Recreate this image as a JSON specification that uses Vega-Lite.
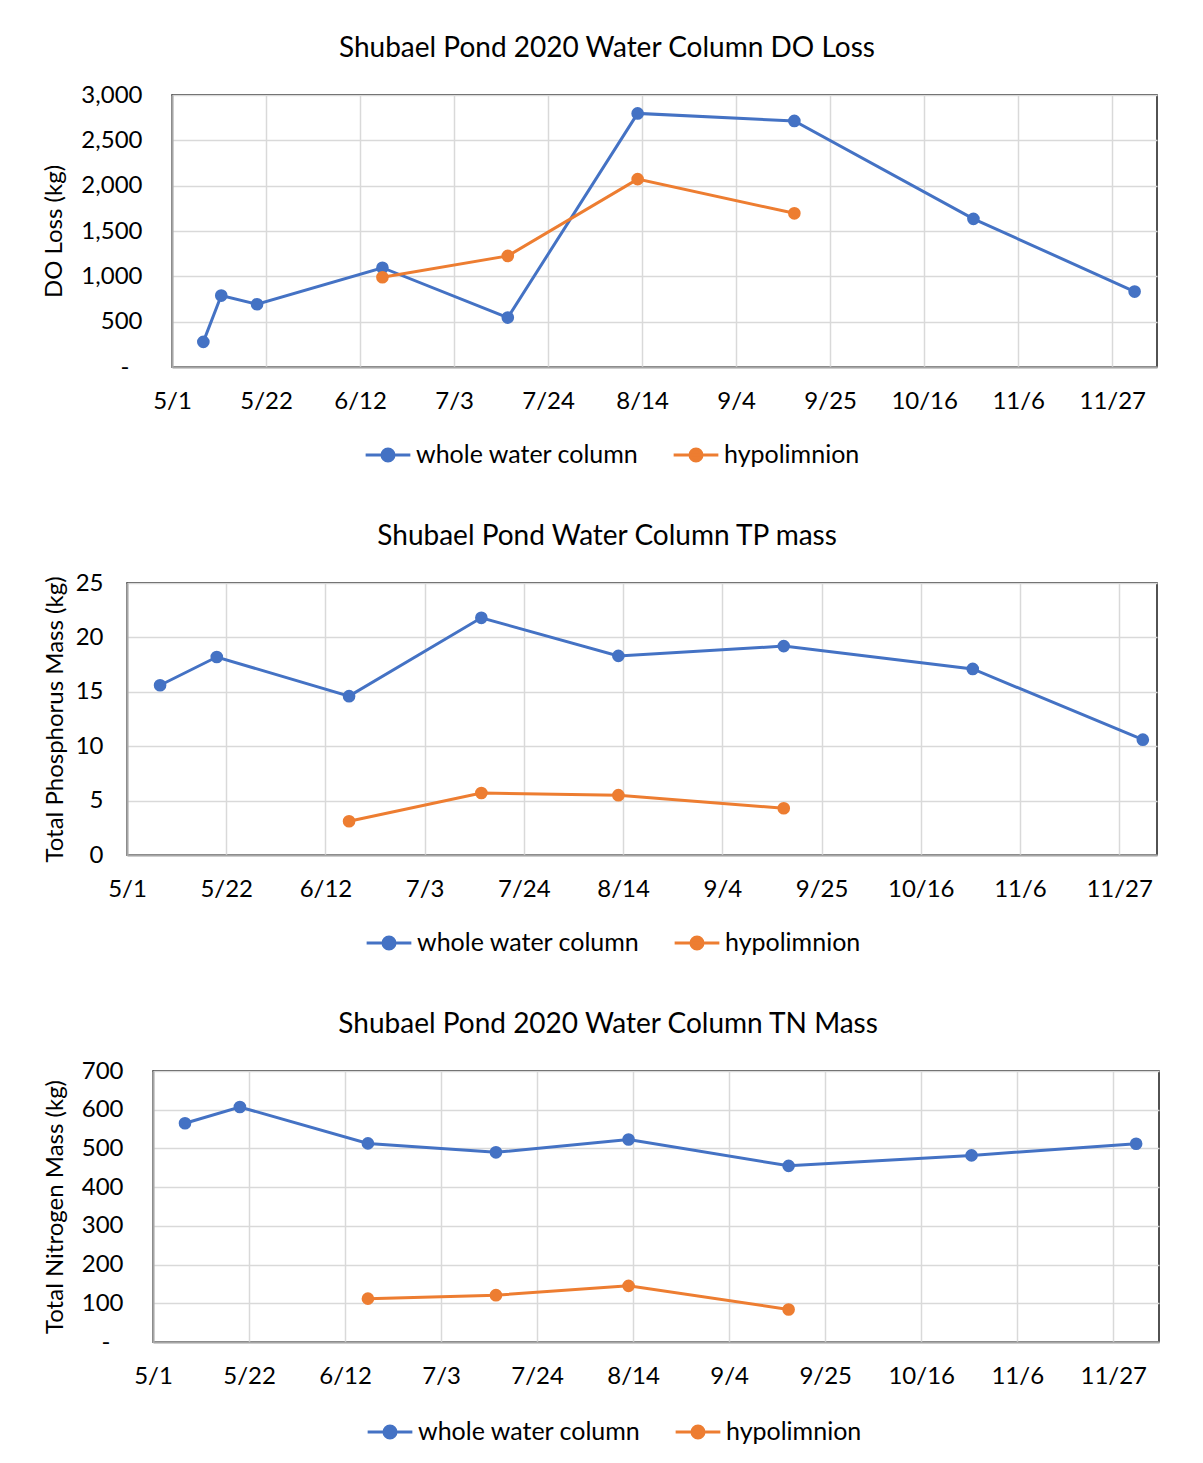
{
  "$schema": "https://vega.github.io/schema/vega-lite/v6.json",
  "padding": {"left": 41, "top": 34, "right": 20, "bottom": 5},
  "spacing": 53,
  "datasets": {
    "d": [
      {"panel": "DO", "series": "whole water column", "date": "2020-05-08T00:00:00", "value": 277},
      {"panel": "DO", "series": "whole water column", "date": "2020-05-12T00:00:00", "value": 788},
      {"panel": "DO", "series": "whole water column", "date": "2020-05-20T00:00:00", "value": 692},
      {"panel": "DO", "series": "whole water column", "date": "2020-06-17T00:00:00", "value": 1095},
      {"panel": "DO", "series": "whole water column", "date": "2020-07-15T00:00:00", "value": 545},
      {"panel": "DO", "series": "whole water column", "date": "2020-08-13T00:00:00", "value": 2797},
      {"panel": "DO", "series": "whole water column", "date": "2020-09-17T00:00:00", "value": 2714},
      {"panel": "DO", "series": "whole water column", "date": "2020-10-27T00:00:00", "value": 1634},
      {"panel": "DO", "series": "whole water column", "date": "2020-12-02T00:00:00", "value": 832},
      {"panel": "DO", "series": "hypolimnion", "date": "2020-06-17T00:00:00", "value": 990},
      {"panel": "DO", "series": "hypolimnion", "date": "2020-07-15T00:00:00", "value": 1225},
      {"panel": "DO", "series": "hypolimnion", "date": "2020-08-13T00:00:00", "value": 2072},
      {"panel": "DO", "series": "hypolimnion", "date": "2020-09-17T00:00:00", "value": 1695},
      {"panel": "TP", "series": "whole water column", "date": "2020-05-08T00:00:00", "value": 15.6},
      {"panel": "TP", "series": "whole water column", "date": "2020-05-20T00:00:00", "value": 18.2},
      {"panel": "TP", "series": "whole water column", "date": "2020-06-17T00:00:00", "value": 14.6},
      {"panel": "TP", "series": "whole water column", "date": "2020-07-15T00:00:00", "value": 21.8},
      {"panel": "TP", "series": "whole water column", "date": "2020-08-13T00:00:00", "value": 18.3},
      {"panel": "TP", "series": "whole water column", "date": "2020-09-17T00:00:00", "value": 19.2},
      {"panel": "TP", "series": "whole water column", "date": "2020-10-27T00:00:00", "value": 17.1},
      {"panel": "TP", "series": "whole water column", "date": "2020-12-02T00:00:00", "value": 10.6},
      {"panel": "TP", "series": "hypolimnion", "date": "2020-06-17T00:00:00", "value": 3.1},
      {"panel": "TP", "series": "hypolimnion", "date": "2020-07-15T00:00:00", "value": 5.7},
      {"panel": "TP", "series": "hypolimnion", "date": "2020-08-13T00:00:00", "value": 5.5},
      {"panel": "TP", "series": "hypolimnion", "date": "2020-09-17T00:00:00", "value": 4.3},
      {"panel": "TN", "series": "whole water column", "date": "2020-05-08T00:00:00", "value": 565},
      {"panel": "TN", "series": "whole water column", "date": "2020-05-20T00:00:00", "value": 607},
      {"panel": "TN", "series": "whole water column", "date": "2020-06-17T00:00:00", "value": 513},
      {"panel": "TN", "series": "whole water column", "date": "2020-07-15T00:00:00", "value": 490},
      {"panel": "TN", "series": "whole water column", "date": "2020-08-13T00:00:00", "value": 523},
      {"panel": "TN", "series": "whole water column", "date": "2020-09-17T00:00:00", "value": 455},
      {"panel": "TN", "series": "whole water column", "date": "2020-10-27T00:00:00", "value": 482},
      {"panel": "TN", "series": "whole water column", "date": "2020-12-02T00:00:00", "value": 512},
      {"panel": "TN", "series": "hypolimnion", "date": "2020-06-17T00:00:00", "value": 112},
      {"panel": "TN", "series": "hypolimnion", "date": "2020-07-15T00:00:00", "value": 121},
      {"panel": "TN", "series": "hypolimnion", "date": "2020-08-13T00:00:00", "value": 145},
      {"panel": "TN", "series": "hypolimnion", "date": "2020-09-17T00:00:00", "value": 84}
    ]
  },
  "vconcat": [
    {
      "spacing": 0,
      "hconcat": [
        {"width": 1, "height": 1, "data": {"values": []}, "mark": "point", "view": {"stroke": null}},
        {
          "title": {"text": "Shubael Pond 2020 Water Column DO Loss"},
          "width": 985,
          "height": 272,
          "data": {"name": "d"},
          "transform": [{"filter": "datum.panel == 'DO'"}],
          "mark": {"type": "line", "strokeWidth": 3, "point": {"filled": true, "size": 160}},
          "encoding": {
            "x": {
              "field": "date", "type": "temporal",
              "scale": {"domain": [{"year": 2020, "month": 5, "date": 1}, {"year": 2020, "month": 12, "date": 7}]},
              "axis": {"title": null, "format": "%-m/%-d",
                "values": [{"year": 2020, "month": 5, "date": 1}, {"year": 2020, "month": 5, "date": 22}, {"year": 2020, "month": 6, "date": 12}, {"year": 2020, "month": 7, "date": 3}, {"year": 2020, "month": 7, "date": 24}, {"year": 2020, "month": 8, "date": 14}, {"year": 2020, "month": 9, "date": 4}, {"year": 2020, "month": 9, "date": 25}, {"year": 2020, "month": 10, "date": 16}, {"year": 2020, "month": 11, "date": 6}, {"year": 2020, "month": 11, "date": 27}]}
            },
            "y": {
              "field": "value", "type": "quantitative",
              "scale": {"domain": [0, 3000], "nice": false},
              "axis": {"title": "DO Loss (kg)", "values": [0, 500, 1000, 1500, 2000, 2500, 3000], "titlePadding": 14,
                "labelPadding": {"condition": {"test": "datum.value === 0", "value": 43}, "value": 30},
                "labelExpr": "datum.value === 0 ? '-' : format(datum.value, ',')"}
            },
            "color": {
              "field": "series", "type": "nominal",
              "scale": {"domain": ["whole water column", "hypolimnion"], "range": ["#4472C4", "#ED7D31"]},
              "legend": {"title": null, "orient": "none", "legendX": 192, "legendY": 336}
            }
          }
        }
      ],
      "resolve": {"scale": {"color": "independent"}, "legend": {"color": "independent"}}
    },
    {
      "spacing": 0,
      "hconcat": [
        {"width": 1, "height": 1, "data": {"values": []}, "mark": "point", "view": {"stroke": null}},
        {
          "title": {"text": "Shubael Pond Water Column TP mass"},
          "width": 1030,
          "height": 272,
          "data": {"name": "d"},
          "transform": [{"filter": "datum.panel == 'TP'"}],
          "mark": {"type": "line", "strokeWidth": 3, "point": {"filled": true, "size": 160}},
          "encoding": {
            "x": {
              "field": "date", "type": "temporal",
              "scale": {"domain": [{"year": 2020, "month": 5, "date": 1}, {"year": 2020, "month": 12, "date": 5}]},
              "axis": {"title": null, "format": "%-m/%-d",
                "values": [{"year": 2020, "month": 5, "date": 1}, {"year": 2020, "month": 5, "date": 22}, {"year": 2020, "month": 6, "date": 12}, {"year": 2020, "month": 7, "date": 3}, {"year": 2020, "month": 7, "date": 24}, {"year": 2020, "month": 8, "date": 14}, {"year": 2020, "month": 9, "date": 4}, {"year": 2020, "month": 9, "date": 25}, {"year": 2020, "month": 10, "date": 16}, {"year": 2020, "month": 11, "date": 6}, {"year": 2020, "month": 11, "date": 27}]}
            },
            "y": {
              "field": "value", "type": "quantitative",
              "scale": {"domain": [0, 25], "nice": false},
              "axis": {"title": "Total Phosphorus Mass (kg)", "values": [0, 5, 10, 15, 20, 25], "labelPadding": 24, "titlePadding": 8}
            },
            "color": {
              "field": "series", "type": "nominal",
              "scale": {"domain": ["whole water column", "hypolimnion"], "range": ["#4472C4", "#ED7D31"]},
              "legend": {"title": null, "orient": "none", "legendX": 238, "legendY": 336}
            }
          }
        }
      ],
      "resolve": {"scale": {"color": "independent"}, "legend": {"color": "independent"}}
    },
    {
      "spacing": 0,
      "hconcat": [
        {"width": 1, "height": 1, "data": {"values": []}, "mark": "point", "view": {"stroke": null}},
        {
          "title": {"text": "Shubael Pond 2020 Water Column TN Mass"},
          "width": 1006,
          "height": 271,
          "data": {"name": "d"},
          "transform": [{"filter": "datum.panel == 'TN'"}],
          "mark": {"type": "line", "strokeWidth": 3, "point": {"filled": true, "size": 160}},
          "encoding": {
            "x": {
              "field": "date", "type": "temporal",
              "scale": {"domain": [{"year": 2020, "month": 5, "date": 1}, {"year": 2020, "month": 12, "date": 7}]},
              "axis": {"title": null, "format": "%-m/%-d",
                "values": [{"year": 2020, "month": 5, "date": 1}, {"year": 2020, "month": 5, "date": 22}, {"year": 2020, "month": 6, "date": 12}, {"year": 2020, "month": 7, "date": 3}, {"year": 2020, "month": 7, "date": 24}, {"year": 2020, "month": 8, "date": 14}, {"year": 2020, "month": 9, "date": 4}, {"year": 2020, "month": 9, "date": 25}, {"year": 2020, "month": 10, "date": 16}, {"year": 2020, "month": 11, "date": 6}, {"year": 2020, "month": 11, "date": 27}]}
            },
            "y": {
              "field": "value", "type": "quantitative",
              "scale": {"domain": [0, 700], "nice": false},
              "axis": {"title": "Total Nitrogen Mass (kg)", "values": [0, 100, 200, 300, 400, 500, 600, 700], "titlePadding": 14,
                "labelPadding": {"condition": {"test": "datum.value === 0", "value": 43}, "value": 30},
                "labelExpr": "datum.value === 0 ? '-' : datum.label"}
            },
            "color": {
              "field": "series", "type": "nominal",
              "scale": {"domain": ["whole water column", "hypolimnion"], "range": ["#4472C4", "#ED7D31"]},
              "legend": {"title": null, "orient": "none", "legendX": 213, "legendY": 337}
            }
          }
        }
      ],
      "resolve": {"scale": {"color": "independent"}, "legend": {"color": "independent"}}
    }
  ],
  "resolve": {"scale": {"color": "independent"}, "legend": {"color": "independent"}},
  "config": {
    "font": "Lato",
    "view": {"stroke": "#1a1a1a", "strokeWidth": 1.5},
    "title": {"fontSize": 28, "fontWeight": "normal", "color": "#000000", "anchor": "middle", "frame": "bounds", "offset": 20, "dx": 7},
    "axis": {
      "labelFontSize": 24, "labelColor": "#000000", "titleFontSize": 24, "titleFontWeight": "normal", "titleColor": "#000000",
      "grid": true, "gridColor": "#D9D9D9", "gridWidth": 1.5, "ticks": false,
      "domainColor": "#A6A6A6", "domainWidth": 2
    },
    "axisX": {"labelPadding": 22, "labelFlush": false},
    "legend": {
      "direction": "horizontal", "labelFontSize": 25, "labelColor": "#000000", "labelLimit": 500,
      "symbolType": "M-1,0L1,0M-0.27,0A0.27,0.27,0,1,1,0.27,0A0.27,0.27,0,1,1,-0.27,0Z",
      "symbolSize": 2000, "symbolStrokeWidth": 3, "columnPadding": 28, "labelOffset": 4
    }
  }
}
